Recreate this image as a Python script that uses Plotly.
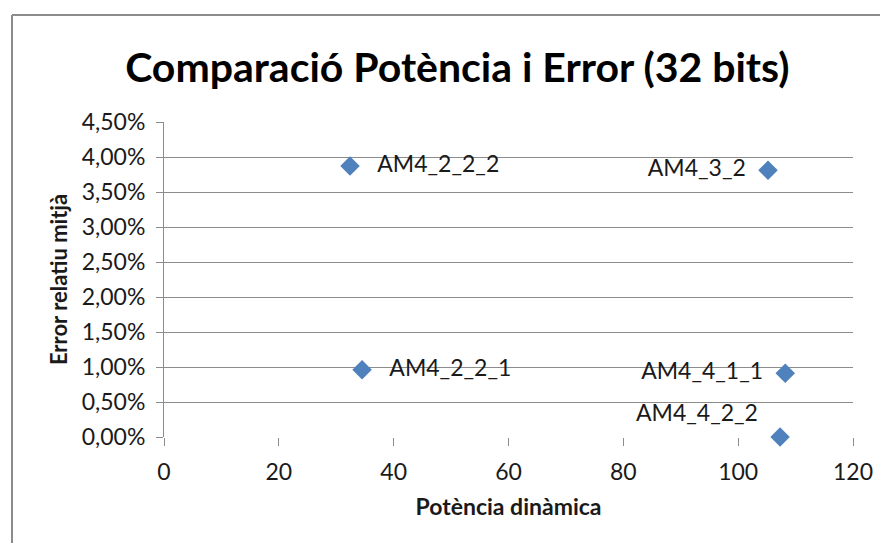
import plotly.graph_objects as go

names = ["AM4_2_2_2", "AM4_3_2", "AM4_2_2_1", "AM4_4_1_1", "AM4_4_2_2"]
potencia = [32.4, 105.2, 34.5, 108.2, 107.3]
error = [0.0387, 0.0381, 0.0096, 0.0091, 0.0000]
label_pos = ["middle right", "middle left", "middle right", "middle left", "top left"]

x_ticks = [0, 20, 40, 60, 80, 100, 120]
y_ticks = [0, 0.005, 0.01, 0.015, 0.02, 0.025, 0.03, 0.035, 0.04, 0.045]

font_family = "Lato, 'Open Sans', sans-serif"

L, T, PW, PH = 156, 114, 689, 315

labels = [("   " + n) if "right" in p else (n + "  ") for n, p in zip(names, label_pos)]

fig = go.Figure()
fig.add_trace(go.Scatter(
    x=potencia, y=error, mode="markers+text",
    text=labels, textposition=label_pos,
    textfont=dict(size=23, color="#1a1a1a", family=font_family),
    marker=dict(symbol="diamond", size=15, color="#4F81BD"),
    cliponaxis=False, showlegend=False,
))

fig.update_layout(
    width=888, height=543,
    margin=dict(l=L, r=888 - L - PW, t=T, b=543 - T - PH),
    paper_bgcolor="white", plot_bgcolor="white",
    separators=",.",
    font=dict(family=font_family, color="#1a1a1a"),
    title=dict(text="<b>Comparació Potència i Error (32 bits)</b>",
               x=0.506, xanchor="center", y=1 - 60 / 543, yanchor="middle",
               font=dict(size=41, family=font_family, color="black")),
    xaxis=dict(range=[0, 120], tickvals=x_ticks, showgrid=False, zeroline=False,
               showline=False, ticks="outside", ticklen=8, tickcolor="#8c8c8c",
               ticklabelstandoff=6,
               tickfont=dict(size=23), title=dict(text="<b>Potència dinàmica</b>",
               font=dict(size=23), standoff=15)),
    yaxis=dict(range=[0, 0.045], tickvals=y_ticks, tickformat=".2%",
               showgrid=True, gridcolor="#8c8c8c", gridwidth=1, zeroline=False,
               showline=True, linecolor="#8c8c8c", ticks="outside", ticklen=7,
               ticklabelstandoff=6,
               tickcolor="#8c8c8c", tickfont=dict(size=23),
               title=dict(text="<b>Error relatiu mitjà</b>", font=dict(size=22), standoff=8)),
)

# Chart outer frame (top and left edges visible)
fx = (4 - L) / PW
fy = 1 + (T - 7) / PH
fig.add_shape(type="line", xref="paper", yref="paper", x0=fx, x1=1.2,
              y0=fy, y1=fy, line=dict(color="#8c8c8c", width=2))
fig.add_shape(type="line", xref="paper", yref="paper", x0=fx, x1=fx,
              y0=-0.5, y1=fy, line=dict(color="#8c8c8c", width=2))

fig.write_html("out.html")
